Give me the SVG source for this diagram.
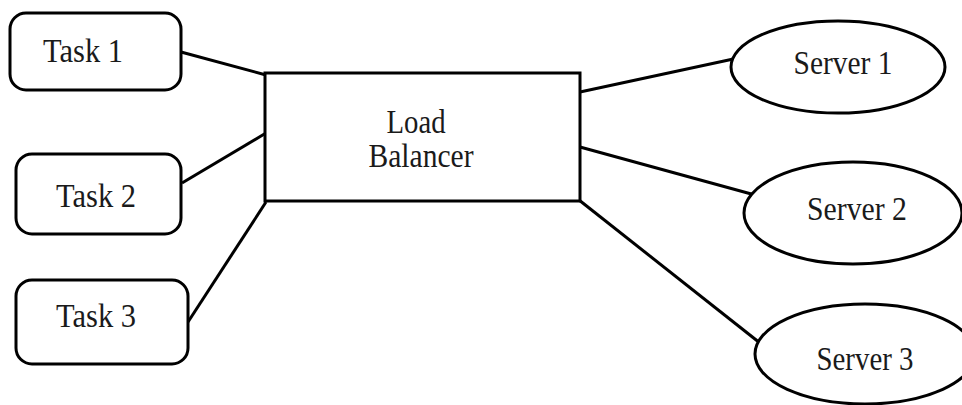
<svg xmlns="http://www.w3.org/2000/svg" width="962" height="405" viewBox="0 0 962 405">
  <style>
    .shape { fill: #ffffff; stroke: #000000; stroke-width: 3; }
    .link { stroke: #000000; stroke-width: 3; fill: none; }
    .label { font-family: "Liberation Serif", "Times New Roman", serif; font-size: 33px; fill: #1a1a1a; text-anchor: middle; }
  </style>
  <rect width="962" height="405" fill="#ffffff"/>

  <!-- connectors -->
  <g id="connectors">
    <line class="link" x1="181" y1="52" x2="266" y2="75"/>
    <line class="link" x1="182" y1="183" x2="266" y2="133"/>
    <line class="link" x1="188" y1="322" x2="266" y2="202"/>
    <line class="link" x1="580" y1="92" x2="738" y2="58"/>
    <line class="link" x1="580" y1="147" x2="755" y2="195"/>
    <line class="link" x1="579" y1="200" x2="760" y2="343"/>
  </g>

  <!-- task nodes -->
  <g id="task1">
    <rect class="shape" x="10" y="13" width="171" height="77" rx="16" ry="16"/>
    <text class="label" x="83" y="62" textLength="80" lengthAdjust="spacingAndGlyphs">Task 1</text>
  </g>
  <g id="task2">
    <rect class="shape" x="16" y="154" width="165" height="80" rx="16" ry="16"/>
    <text class="label" x="96" y="207" textLength="80" lengthAdjust="spacingAndGlyphs">Task 2</text>
  </g>
  <g id="task3">
    <rect class="shape" x="16" y="280" width="172" height="84" rx="16" ry="16"/>
    <text class="label" x="96" y="327" textLength="80" lengthAdjust="spacingAndGlyphs">Task 3</text>
  </g>

  <!-- balancer -->
  <g id="load-balancer">
    <rect class="shape" x="265" y="73" width="315" height="128"/>
    <text class="label" x="416" y="133" textLength="59" lengthAdjust="spacingAndGlyphs">Load</text>
    <text class="label" x="421" y="167" textLength="105" lengthAdjust="spacingAndGlyphs">Balancer</text>
  </g>

  <!-- server nodes -->
  <g id="server1">
    <ellipse class="shape" cx="838" cy="67" rx="107" ry="46"/>
    <text class="label" x="843" y="74" textLength="99" lengthAdjust="spacingAndGlyphs">Server 1</text>
  </g>
  <g id="server2">
    <ellipse class="shape" cx="853" cy="213" rx="109" ry="51"/>
    <text class="label" x="857" y="220" textLength="100" lengthAdjust="spacingAndGlyphs">Server 2</text>
  </g>
  <g id="server3">
    <ellipse class="shape" cx="865" cy="354" rx="110" ry="50"/>
    <text class="label" x="865" y="370" textLength="97" lengthAdjust="spacingAndGlyphs">Server 3</text>
  </g>
</svg>
